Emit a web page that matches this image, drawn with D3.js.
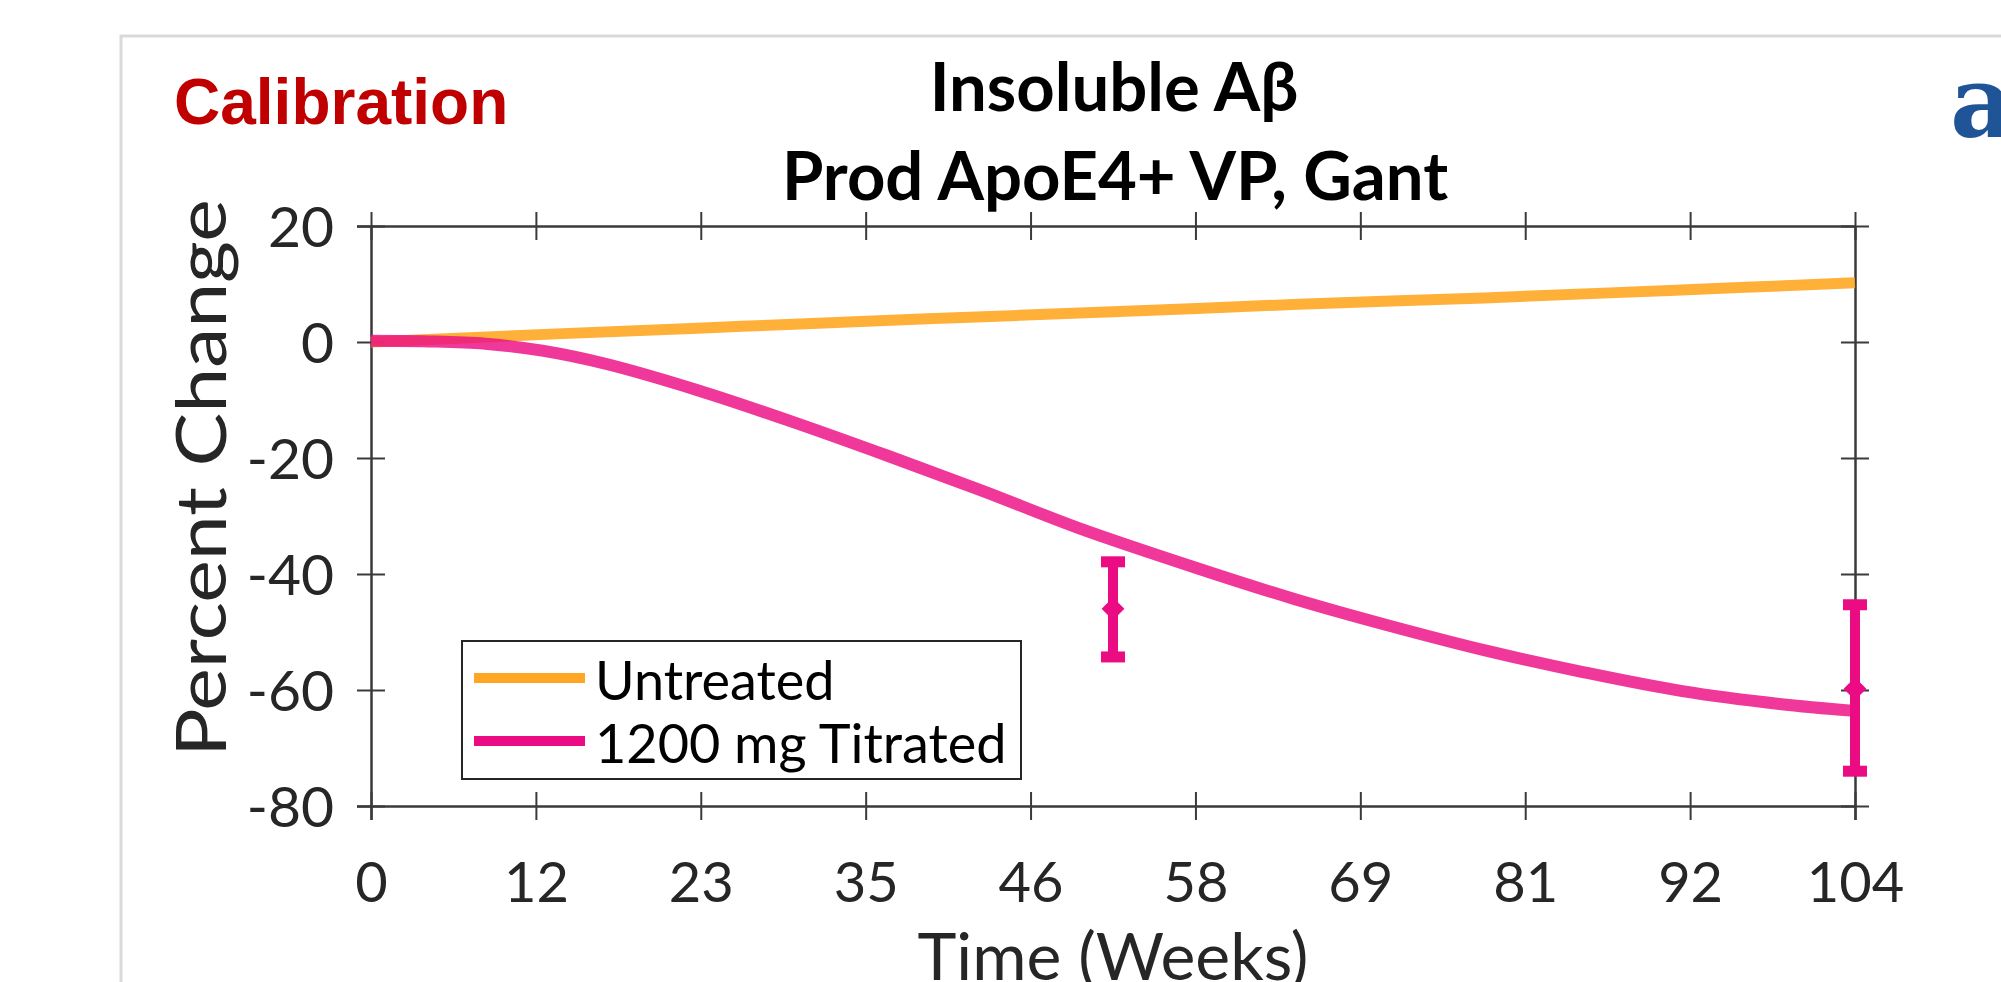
<!DOCTYPE html>
<html>
<head>
<meta charset="utf-8">
<script src="https://cdn.jsdelivr.net/npm/d3@7"></script>
<style>
  body { margin: 0; background: #fff; }
  svg { display: block; }
</style>
</head>
<body>
<div id="chart"></div>
<script>
// values
var untreatedWeeks = [0, 13, 26, 39, 52, 65, 78, 91, 104];
var untreatedPct   = [0, 1.4, 2.7, 4.0, 5.2, 6.5, 7.6, 8.9, 10.2];

var titratedWeeks = [0, 4, 8, 12, 16.5, 23, 29.7, 36.3, 42.9, 49.5, 57.9, 64.7, 71.5, 78.3, 85.1, 91.9, 98.7, 104];
var titratedPct   = [0.2, 0.1, -0.3, -1.5, -3.8, -8.4, -13.9, -19.7, -25.7, -32.0, -39.0, -44.3, -49.0, -53.3, -57.0, -60.2, -62.4, -63.6];

var obsWeeks = [52, 104];
var obsMean  = [-46.0, -59.8];
var obsHigh  = [-37.9, -45.3];
var obsLow   = [-54.3, -74.0];

var yTicks = [20, 0, -20, -40, -60, -80];
var xTickCount = 10; // 0..104 split in 9 equal steps, labels rounded

var seriesNames = ["Untreated", "1200 mg Titrated"];
var seriesColors = ["#ffa724", "#eb0c84"];

var W = 2001, H = 982;
var mLeft = 371, mRight = 1855, mTop = 226, mBottom = 806;

var svg = d3.select("#chart").append("svg")
    .attr("width", W).attr("height", H);

// light frame around the panel
svg.append("rect")
  .attr("x", 121).attr("y", 36)
  .attr("width", 2100).attr("height", 1100)
  .attr("fill", "none").attr("stroke", "#d9d9d9").attr("stroke-width", 3);

var x = d3.scaleLinear().domain([0, 104]).range([mLeft, mRight]);
var y = d3.scaleLinear().domain([-80, 20]).range([mBottom, mTop]);

var xTicks = d3.range(xTickCount).map(function(i) { return 104 * i / (xTickCount - 1); });

var axisColor = "#3a3a3a";
function styleAxis(g, horizontal) {
  g.select(".domain").attr("stroke", axisColor).attr("stroke-width", 2.5);
  var ln = g.selectAll(".tick line").attr("stroke", axisColor).attr("stroke-width", 2);
  if (horizontal) ln.attr("y1", -14).attr("y2", 14);
  else ln.attr("x1", -14).attr("x2", 14);
  g.selectAll(".tick text")
    .attr("fill", "#262626")
    .style("font-family", "Lato")
    .style("font-size", "56px");
}

// bottom
var gx = svg.append("g").attr("transform", "translate(0," + mBottom + ")")
  .call(d3.axisBottom(x).tickValues(xTicks).tickSizeOuter(0).tickSize(14).tickPadding(0)
        .tickFormat(function(d) { return Math.round(d); }));
styleAxis(gx, true);
gx.selectAll(".tick text").attr("y", 96).attr("dy", 0);

// top
var gt = svg.append("g").attr("transform", "translate(0," + mTop + ")")
  .call(d3.axisTop(x).tickValues(xTicks).tickSizeOuter(0).tickFormat(""));
styleAxis(gt, true);

// left
var gy = svg.append("g").attr("transform", "translate(" + mLeft + ",0)")
  .call(d3.axisLeft(y).tickValues(yTicks).tickSizeOuter(0).tickSize(14).tickPadding(23)
        .tickFormat(function(d) { return String(d); }));
styleAxis(gy, false);
gy.selectAll(".tick text").attr("dy", "0.36em").style("font-size", "57px");

// right
var gr = svg.append("g").attr("transform", "translate(" + mRight + ",0)")
  .call(d3.axisRight(y).tickValues(yTicks).tickSizeOuter(0).tickFormat(""));
styleAxis(gr, false);

// axis titles
svg.append("text")
  .attr("transform", "translate(226,478) rotate(-90) scale(1.15,1)")
  .attr("text-anchor", "middle")
  .style("font-family", "Lato").style("font-size", "70px").attr("fill", "#262626")
  .text("Percent Change");

svg.append("text")
  .attr("x", 1113).attr("y", 980)
  .attr("text-anchor", "middle")
  .style("font-family", "Lato").style("font-size", "66px").attr("fill", "#262626")
  .text("Time (Weeks)");

// chart title
svg.append("text")
  .attr("x", 1114).attr("y", 111)
  .attr("text-anchor", "middle")
  .style("font-family", "Lato").style("font-weight", "bold").style("font-size", "67px")
  .attr("fill", "#000")
  .text("Insoluble Aβ");
svg.append("text")
  .attr("x", 1115).attr("y", 200)
  .attr("text-anchor", "middle")
  .style("font-family", "Lato").style("font-weight", "bold").style("font-size", "67px")
  .attr("fill", "#000")
  .text("Prod ApoE4+ VP, Gant");

svg.append("text")
  .attr("x", 174).attr("y", 124)
  .style("font-family", "Liberation Sans").style("font-weight", "bold").style("font-size", "64px")
  .attr("fill", "#c00000")
  .text("Calibration");

svg.append("text")
  .attr("x", 1950).attr("y", 137)
  .style("font-family", "DejaVu Serif").style("font-weight", "bold").style("font-size", "100px")
  .attr("fill", "#1f5596")
  .text("a");

// lines
var line = d3.line()
  .x(function(d) { return x(d[0]); })
  .y(function(d) { return y(d[1]); })
  .curve(d3.curveCatmullRom.alpha(0.5));

var untreated = d3.zip(untreatedWeeks, untreatedPct);
var titrated = d3.zip(titratedWeeks, titratedPct);

svg.append("path").datum(untreated)
  .attr("d", line).attr("fill", "none")
  .attr("stroke", seriesColors[0]).attr("stroke-width", 11).attr("stroke-opacity", 0.9);

svg.append("path").datum(titrated)
  .attr("d", line).attr("fill", "none")
  .attr("stroke", seriesColors[1]).attr("stroke-width", 12).attr("stroke-opacity", 0.82);

// observed data with error bars
var obs = obsWeeks.map(function(w, i) {
  return { w: w, m: obsMean[i], hi: obsHigh[i], lo: obsLow[i] };
});
var eb = svg.append("g").selectAll("g").data(obs).enter().append("g");
eb.append("line")
  .attr("x1", function(d) { return x(d.w); }).attr("x2", function(d) { return x(d.w); })
  .attr("y1", function(d) { return y(d.hi); }).attr("y2", function(d) { return y(d.lo); })
  .attr("stroke", seriesColors[1]).attr("stroke-width", 10);
["hi", "lo"].forEach(function(k) {
  eb.append("line")
    .attr("x1", function(d) { return x(d.w) - 12; }).attr("x2", function(d) { return x(d.w) + 12; })
    .attr("y1", function(d) { return y(d[k]); }).attr("y2", function(d) { return y(d[k]); })
    .attr("stroke", seriesColors[1]).attr("stroke-width", 11);
});
eb.append("path")
  .attr("d", d3.symbol(d3.symbolSquare, 260))
  .attr("transform", function(d) { return "translate(" + x(d.w) + "," + y(d.m) + ") rotate(45)"; })
  .attr("fill", seriesColors[1]);

// legend
var lg = svg.append("g");
lg.append("rect")
  .attr("x", 462).attr("y", 641).attr("width", 559).attr("height", 138)
  .attr("fill", "#fff").attr("stroke", "#262626").attr("stroke-width", 2);
seriesNames.forEach(function(name, i) {
  var cy = 678 + i * 63;
  lg.append("line")
    .attr("x1", 474).attr("x2", 585).attr("y1", cy).attr("y2", cy)
    .attr("stroke", seriesColors[i]).attr("stroke-width", 10);
  lg.append("text")
    .attr("x", 595).attr("y", cy + 22)
    .style("font-family", "Lato").style("font-size", "54px").attr("fill", "#000")
    .text(name);
});
</script>
</body>
</html>
